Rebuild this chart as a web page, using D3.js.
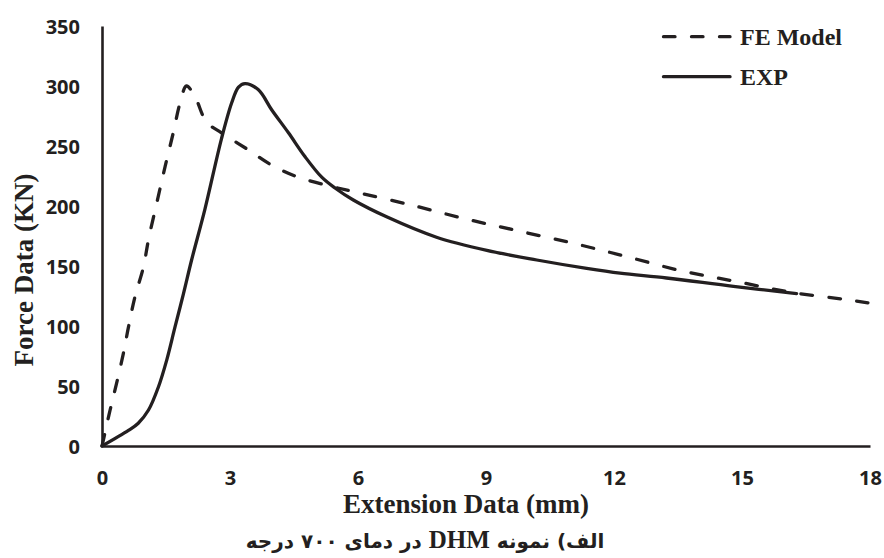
<!DOCTYPE html>
<html>
<head>
<meta charset="utf-8">
<script src="https://cdn.jsdelivr.net/npm/d3@7/dist/d3.min.js"></script>
<style>
  html, body { margin: 0; padding: 0; background: #fff; }
  svg { display: block; }
</style>
</head>
<body>
<svg id="chart" width="884" height="558"></svg>
<script>
// ---- data ----
const feX = [0, 0.07, 0.19, 0.34, 0.5, 0.62, 0.77, 0.97, 1.09, 1.28, 1.48, 1.67, 1.83, 1.98, 2.18, 2.45, 2.8, 3.42, 3.98, 4.6, 5.3, 5.89, 7.18, 8.47, 9.74, 11.05, 12.3, 13.6, 14.89, 16.2, 17.51, 18];
const feY = [0, 11, 30, 52, 77, 99, 124, 149, 172, 202, 233, 261, 286, 300, 291, 270, 261, 247, 234, 224, 217, 212, 201.4, 189.7, 179.4, 168.9, 157.8, 145.8, 136.9, 127.8, 121.7, 119];
const expX = [0, 0.62, 0.85, 1.09, 1.32, 1.52, 1.71, 1.91, 2.1, 2.41, 2.8, 3.04, 3.2, 3.35, 3.66, 3.98, 4.37, 4.76, 5.15, 5.46, 5.89, 6.67, 7.84, 9.02, 10.19, 11.36, 12.14, 13.23, 14.8, 16.28];
const expY = [0, 13, 19, 30, 49, 72, 99, 127, 155, 197, 256, 286, 299, 302, 297, 280, 261, 241, 224, 215, 205, 191, 174, 163, 155, 148, 144, 140, 133, 127];
const xTicks = [0, 3, 6, 9, 12, 15, 18];
const yTicks = [0, 50, 100, 150, 200, 250, 300, 350];
const seriesNames = ["FE Model", "EXP"];
const xTitle = "Extension Data (mm)";
const yTitle = "Force Data (KN)";
const captionParts = ["الف) نمونه ", "DHM", " در دمای ۷۰۰ درجه"];

// ---- layout ----
const ink = "#231f20";
const svg = d3.select("#chart");
const x = d3.scaleLinear().domain([0, 18]).range([102, 870]);
const y = d3.scaleLinear().domain([0, 350]).range([446, 26]);

const tickFont = "'Open Sans', sans-serif";
const serif = "'Liberation Serif', 'Times New Roman', serif";

// axes
const xAxis = svg.append("g").attr("transform", `translate(0,${y(0)})`)
  .call(d3.axisBottom(x).tickValues(xTicks).tickSize(0).tickPadding(0).tickFormat(d3.format("d")));
xAxis.select(".domain").attr("stroke", ink).attr("stroke-width", 2.6);
xAxis.selectAll("text").attr("y", 39).attr("dy", 0)
  .attr("font-family", tickFont).attr("font-weight", 700).attr("font-size", 20).attr("fill", ink);

const yAxis = svg.append("g").attr("transform", `translate(${x(0)},0)`)
  .call(d3.axisLeft(y).tickValues(yTicks).tickSize(0).tickPadding(0).tickFormat(d3.format("d")));
yAxis.select(".domain").attr("stroke", ink).attr("stroke-width", 2.6);
yAxis.selectAll("text").attr("x", -22).attr("dy", "0.36em")
  .attr("font-family", tickFont).attr("font-weight", 700).attr("font-size", 20).attr("fill", ink);

// lines
const line = d3.line().x(d => x(d[0])).y(d => y(d[1])).curve(d3.curveCatmullRom.alpha(0.5));
const feData = feX.map((v, i) => [v, feY[i]]);
const expData = expX.map((v, i) => [v, expY[i]]);

svg.append("path").datum(expData).attr("d", line)
  .attr("fill", "none").attr("stroke", ink).attr("stroke-width", 3.3)
  .attr("stroke-linejoin", "round").attr("stroke-linecap", "round");
svg.append("path").datum(feData).attr("d", line)
  .attr("fill", "none").attr("stroke", ink).attr("stroke-width", 3.3)
  .attr("stroke-dasharray", "11.5,16.5").attr("stroke-linecap", "round");

// legend
const leg = svg.append("g");
const legItems = [
  { name: seriesNames[0], dash: "11.5,16.5", ly: 36.7 },
  { name: seriesNames[1], dash: null, ly: 76.7 }
];
legItems.forEach(it => {
  const l = leg.append("line").attr("x1", 663.5).attr("x2", 730).attr("y1", it.ly).attr("y2", it.ly)
    .attr("stroke", ink).attr("stroke-width", 3.3).attr("stroke-linecap", "round");
  if (it.dash) l.attr("stroke-dasharray", it.dash);
  leg.append("text").attr("x", 740).attr("y", it.ly + 8.5)
    .attr("font-family", serif).attr("font-weight", 700).attr("font-size", 24).attr("fill", ink)
    .text(it.name);
});

// titles
svg.append("text").attr("x", 466).attr("y", 513).attr("text-anchor", "middle")
  .attr("font-family", serif).attr("font-weight", 700).attr("font-size", 27).attr("fill", ink)
  .text(xTitle);
svg.append("text").attr("transform", "translate(33,270) rotate(-90)").attr("text-anchor", "middle")
  .attr("font-family", serif).attr("font-weight", 700).attr("font-size", 27).attr("fill", ink)
  .text(yTitle);

// caption (RTL)
const cap = svg.append("text").attr("x", 425).attr("y", 548).attr("text-anchor", "middle")
  .attr("direction", "rtl").attr("unicode-bidi", "embed")
  .attr("font-weight", 700).attr("font-size", 20).attr("fill", ink);
captionParts.forEach((p, i) => {
  cap.append("tspan")
    .attr("font-family", i === 1 ? serif : "'DejaVu Sans', sans-serif")
    .attr("font-size", i === 1 ? 25 : 20)
    .text(p);
});
</script>
</body>
</html>
